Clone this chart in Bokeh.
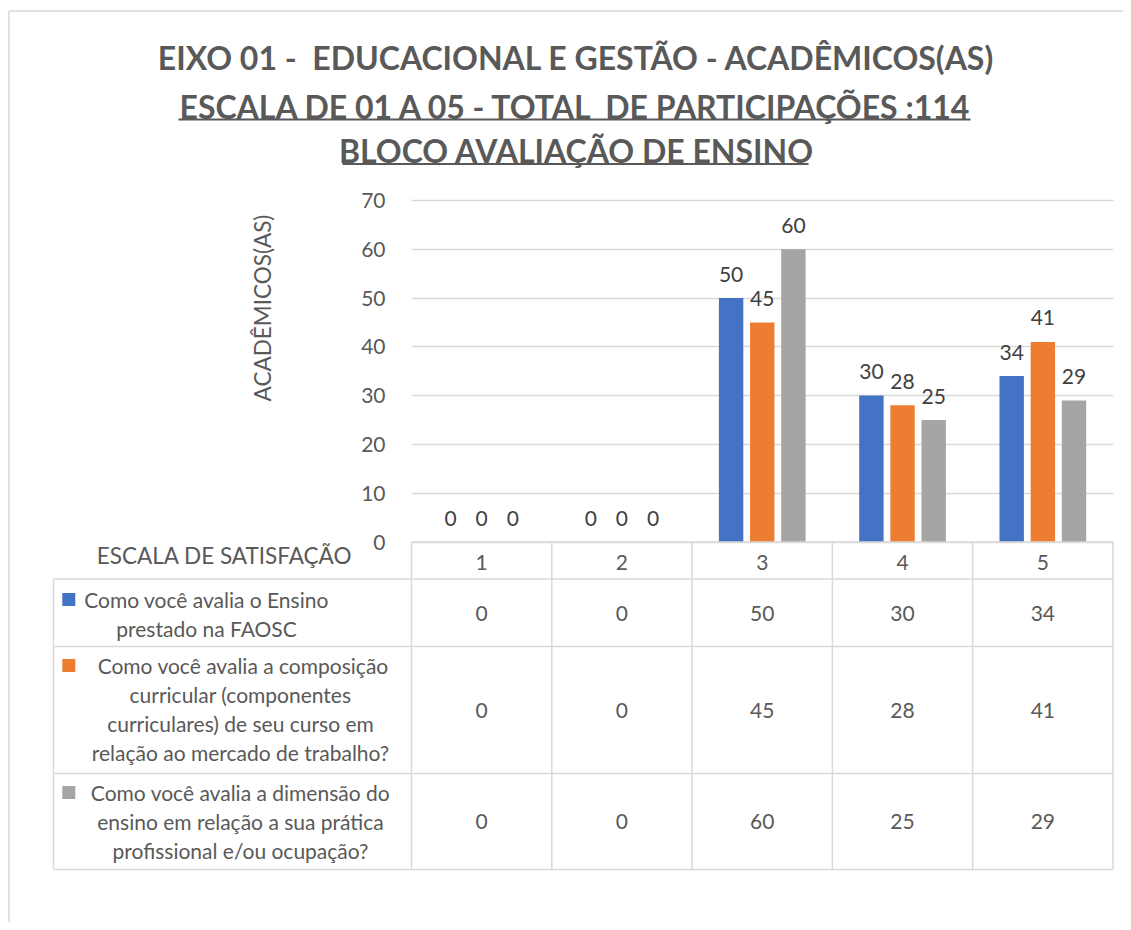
import math
from bokeh.plotting import figure
from bokeh.models import Range1d, FixedTicker, ColumnDataSource
from bokeh.transform import dodge
from bokeh.core.properties import value
from bokeh.embed import file_html
from bokeh.resources import INLINE

NB = "\u00a0"  # keeps doubled spaces visible in SVG text

# ---------------- data ----------------
categories = ["1", "2", "3", "4", "5"]
ensino = [0, 0, 50, 30, 34]
composicao = [0, 0, 45, 28, 41]
dimensao = [0, 0, 60, 25, 29]
series_keys = ["ensino", "composicao", "dimensao"]
series_label_lines = [
    ["Como você avalia o Ensino", "prestado na FAOSC"],
    [NB + "Como você avalia a composição", "curricular (componentes",
     "curriculares) de seu curso em", "relação ao mercado de trabalho?"],
    ["Como você avalia a dimensão do", "ensino em relação a sua prática",
     "profissional e/ou ocupação?"],
]
colors = ["#4472C4", "#ED7D31", "#A5A5A5"]
y_ticks = [0, 10, 20, 30, 40, 50, 60, 70]
title_lines = [
    "EIXO 01 -" + NB + " EDUCACIONAL E GESTÃO - ACADÊMICOS(AS)",
    "ESCALA DE 01 A 05 - TOTAL" + NB + " DE PARTICIPAÇÕES :114",
    "BLOCO AVALIAÇÃO DE ENSINO",
]
y_axis_title = "ACADÊMICOS(AS)"
x_axis_title = "ESCALA DE SATISFAÇÃO"

# ---------------- layout (page pixels) ----------------
W, H = 1123, 922
PX_X0 = 411.0      # page x of category-axis start (x = 0.5)
PX_PER_X = 140.3
PX_Y0 = 541.5      # page y of value 0
PX_PER_Y = 4.88


def fx(px):
    return 0.5 + (px - PX_X0) / PX_PER_X


def fy(py):
    return (PX_Y0 - py) / PX_PER_Y


FONT = value("Lato")
TXT = "#595959"
LINE = "#d9d9d9"
FS = "21px"
FS_CAPS = "22.5px"

p = figure(width=W, height=H, output_backend="svg", toolbar_location=None, tools="",
           x_range=Range1d(fx(0), fx(W)), y_range=Range1d(fy(H), fy(0)),
           min_border=0)
p.outline_line_color = None
p.background_fill_color = "white"
p.border_fill_color = "white"
p.xaxis.visible = False
p.xgrid.visible = False

ax = p.yaxis[0]
ax.fixed_location = 0.5
ax.ticker = FixedTicker(ticks=y_ticks)
ax.bounds = (min(y_ticks), max(y_ticks))
ax.axis_line_color = None
ax.major_tick_line_color = None
ax.minor_tick_line_color = None
ax.major_label_text_font = "Lato"
ax.major_label_text_font_size = FS
ax.major_label_text_color = TXT
ax.major_label_standoff = 20

g = p.ygrid[0]
g.ticker = FixedTicker(ticks=y_ticks)
g.bounds = (min(y_ticks), max(y_ticks))
g.cross_bounds = (0.5, len(categories) + 0.5)
g.grid_line_color = LINE
g.grid_line_width = 1.3

# chart-area border (left / top)
p.segment(x0=[fx(8.5), fx(8.5)], y0=[fy(10.5), fy(10.5)], x1=[fx(8.5), fx(W)],
          y1=[fy(H), fy(10.5)], line_color=LINE, line_width=1.5)

# ---------------- bars ----------------
pos = [i + 1 for i in range(len(categories))]
src = ColumnDataSource(dict(pos=pos, cat=categories, ensino=ensino,
                            composicao=composicao, dimensao=dimensao,
                            ensino_t=[str(v) for v in ensino],
                            composicao_t=[str(v) for v in composicao],
                            dimensao_t=[str(v) for v in dimensao]))
offsets = [-0.222, 0.0, 0.222]
for key, col, off in zip(series_keys, colors, offsets):
    p.vbar(x=dodge("pos", off, range=p.x_range), top=key, width=0.174, source=src,
           fill_color=col, line_color=None)
    p.text(x=dodge("pos", off, range=p.x_range), y=key, text=key + "_t", source=src,
           text_font=FONT, text_font_size=FS, text_color="#404040",
           text_align="center", text_baseline="middle", y_offset=-24)

# ---------------- data table ----------------
row_bounds_px = [578.5, 646.0, 773.0, 869.0]
row_center_px = [612.5, 710.0, 821.0]
table_left_px = 53.0
xs_cols = [0.5 + i for i in range(len(categories) + 1)]
# vertical lines
p.segment(x0=xs_cols, x1=xs_cols, y0=[0] * len(xs_cols), y1=[fy(row_bounds_px[-1])] * len(xs_cols),
          line_color=LINE, line_width=1.5)
p.segment(x0=[fx(table_left_px)], x1=[fx(table_left_px)], y0=[fy(row_bounds_px[0])],
          y1=[fy(row_bounds_px[-1])], line_color=LINE, line_width=1.5)
# horizontal lines
hy = [fy(v) for v in row_bounds_px]
p.segment(x0=[fx(table_left_px)] * len(hy), x1=[len(categories) + 0.5] * len(hy), y0=hy, y1=hy,
          line_color=LINE, line_width=1.5)
p.segment(x0=[0.5], x1=[len(categories) + 0.5], y0=[0], y1=[0], line_color=LINE, line_width=1.5)

# header (category numbers)
p.text(x=pos, y=[fy(561.5)] * len(pos), text=categories, text_font=FONT, text_font_size=FS,
       text_color=TXT, text_align="center", text_baseline="middle")
p.text(x=[fx(224)], y=[fy(555)], text=[x_axis_title], text_font=FONT, text_font_size=FS_CAPS,
       text_color=TXT, text_align="center", text_baseline="middle")

# cell values
for key, yc in zip(series_keys, row_center_px):
    p.text(x="pos", y=value(fy(yc)), text=key + "_t", source=src, text_font=FONT,
           text_font_size=FS, text_color=TXT, text_align="center", text_baseline="middle")

# row labels with legend keys
line_y_px = [[599, 628], [665, 694, 723, 752], [792, 821, 850]]
line_cx_px = [206, 240, 240]
for lines, ys, cx, col in zip(series_label_lines, line_y_px, line_cx_px, colors):
    p.text(x=[fx(cx)] * len(lines), y=[fy(v) for v in ys], text=lines, text_font=FONT,
           text_font_size=FS, text_color=TXT, text_align="center", text_baseline="middle")
    p.scatter(x=[fx(68.3)], y=[fy(ys[0])], marker="square", size=13, fill_color=col,
              line_color=None)

# y axis title
p.text(x=[fx(262)], y=[fy(307.5)], text=[y_axis_title], angle=math.pi / 2, text_font=FONT,
       text_font_size=FS_CAPS, text_color=TXT, text_align="center", text_baseline="middle")

# ---------------- titles ----------------
title_y_px = [57, 106, 150]
for t, ty in zip(title_lines, title_y_px):
    p.text(x=[fx(576)], y=[fy(ty)], text=[t], text_font=FONT, text_font_size="32px",
           text_font_style="bold", text_color=TXT, text_align="center", text_baseline="middle")
# underlines for lines 2 and 3
p.segment(x0=[fx(178), fx(342)], x1=[fx(970), fx(808)], y0=[fy(119), fy(163.5)],
          y1=[fy(119), fy(163.5)], line_color=TXT, line_width=2)

open("out.html", "w").write(file_html(p, INLINE))
